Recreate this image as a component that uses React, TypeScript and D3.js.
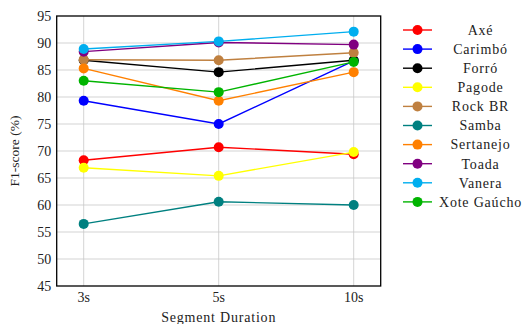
import React, { useEffect, useRef } from 'react';
import * as d3 from 'd3';

// x categories and y ticks
const durations = ['3s', '5s', '10s'];
const yTicks = [45, 50, 55, 60, 65, 70, 75, 80, 85, 90, 95];

// F1-score (%) per genre
const axe = [68.3, 70.7, 69.4];
const carimbo = [79.3, 75.0, 86.7];
const forro = [86.8, 84.6, 86.8];
const pagode = [66.9, 65.4, 69.8];
const rockBr = [86.9, 86.8, 88.2];
const samba = [56.5, 60.6, 60.0];
const sertanejo = [85.3, 79.3, 84.6];
const toada = [88.4, 90.1, 89.7];
const vanera = [88.9, 90.3, 92.1];
const xote = [83.0, 80.9, 86.5];

const genres = ['Axé', 'Carimbó', 'Forró', 'Pagode', 'Rock BR', 'Samba', 'Sertanejo', 'Toada', 'Vanera', 'Xote Gaúcho'];
const seriesValues = [axe, carimbo, forro, pagode, rockBr, samba, sertanejo, toada, vanera, xote];
const colors = ['#ff0000', '#0000ff', '#000000', '#ffff00', '#bf8040', '#008080', '#ff8000', '#800080', '#00aeef', '#00b400'];

const W = 525;
const H = 324;
const FONT = '"Liberation Serif", "Times New Roman", serif';

const App: React.FC = () => {
  const svgRef = useRef<SVGSVGElement>(null);

  useEffect(() => {
    const svg = d3.select(svgRef.current);
    svg.selectAll('*').remove();

    const left = 56.7, right = 380.7, top = 16, bottom = 286;

    const x = d3.scaleLinear().domain([-0.2, durations.length - 1 + 0.2]).range([left, right]);
    const y = d3.scaleLinear().domain([45, 95]).range([bottom, top]);

    // grid
    const grid = svg.append('g');
    grid.selectAll('.hg')
      .data(yTicks.slice(1, -1))
      .enter()
      .append('line')
      .attr('x1', left).attr('x2', right)
      .attr('y1', d => y(d)).attr('y2', d => y(d))
      .style('stroke', '#c8c8c8')
      .style('stroke-width', 0.8);
    grid.selectAll('.vg')
      .data(durations)
      .enter()
      .append('line')
      .attr('x1', (_, i) => x(i)).attr('x2', (_, i) => x(i))
      .attr('y1', top).attr('y2', bottom)
      .style('stroke', '#c8c8c8')
      .style('stroke-width', 0.8);

    // series
    const line = d3.line<number>()
      .x((_, i) => x(i))
      .y(d => y(d));

    seriesValues.forEach((vals, k) => {
      const g = svg.append('g');
      g.append('path')
        .attr('d', line(vals) || '')
        .style('fill', 'none')
        .style('stroke', colors[k])
        .style('stroke-width', 1.4);
      g.selectAll('circle')
        .data(vals)
        .enter()
        .append('circle')
        .attr('cx', (_, i) => x(i))
        .attr('cy', d => y(d))
        .attr('r', 5)
        .style('fill', colors[k]);
    });

    // axis box
    svg.append('rect')
      .attr('x', left).attr('y', top)
      .attr('width', right - left).attr('height', bottom - top)
      .style('fill', 'none')
      .style('stroke', '#000')
      .style('stroke-width', 1.3);

    // y tick labels
    svg.append('g')
      .selectAll('text')
      .data(yTicks)
      .enter()
      .append('text')
      .attr('x', left - 5.5)
      .attr('y', d => y(d) + 4.8)
      .attr('text-anchor', 'end')
      .style('font-family', FONT)
      .style('font-size', '14px')
      .style('fill', '#222')
      .text(d => d);

    // x tick labels
    svg.append('g')
      .selectAll('text')
      .data(durations)
      .enter()
      .append('text')
      .attr('x', (_, i) => x(i))
      .attr('y', 301.5)
      .attr('text-anchor', 'middle')
      .style('font-family', FONT)
      .style('font-size', '14px')
      .style('fill', '#222')
      .text(d => d);

    // axis titles
    svg.append('text')
      .attr('x', (left + right) / 2)
      .attr('y', 321.5)
      .attr('text-anchor', 'middle')
      .style('font-family', FONT)
      .style('font-size', '14px')
      .style('letter-spacing', '0.8px')
      .style('fill', '#222')
      .text('Segment Duration');

    svg.append('text')
      .attr('transform', `translate(18.5, ${(top + bottom) / 2}) rotate(-90)`)
      .attr('text-anchor', 'middle')
      .style('font-family', FONT)
      .style('font-size', '13.5px')
      .style('fill', '#222')
      .text('F1-score (%)');

    // legend
    const legend = svg.append('g');
    genres.forEach((name, k) => {
      const ly = 30 + k * 19.1;
      legend.append('line')
        .attr('x1', 403).attr('x2', 432)
        .attr('y1', ly).attr('y2', ly)
        .style('stroke', colors[k])
        .style('stroke-width', 1.4);
      legend.append('circle')
        .attr('cx', 417.5).attr('cy', ly)
        .attr('r', 5)
        .style('fill', colors[k]);
      legend.append('text')
        .attr('x', 480.5)
        .attr('y', ly + 4.8)
        .attr('text-anchor', 'middle')
        .style('font-family', FONT)
        .style('font-size', '14px')
        .style('letter-spacing', '0.8px')
        .style('fill', '#222')
        .text(name);
    });
  }, []);

  return (
    <div style={{ position: 'absolute', left: 0, top: 0 }}>
      <svg ref={svgRef} width={W} height={H} style={{ display: 'block', background: '#fff' }} />
    </div>
  );
};

export default App;
